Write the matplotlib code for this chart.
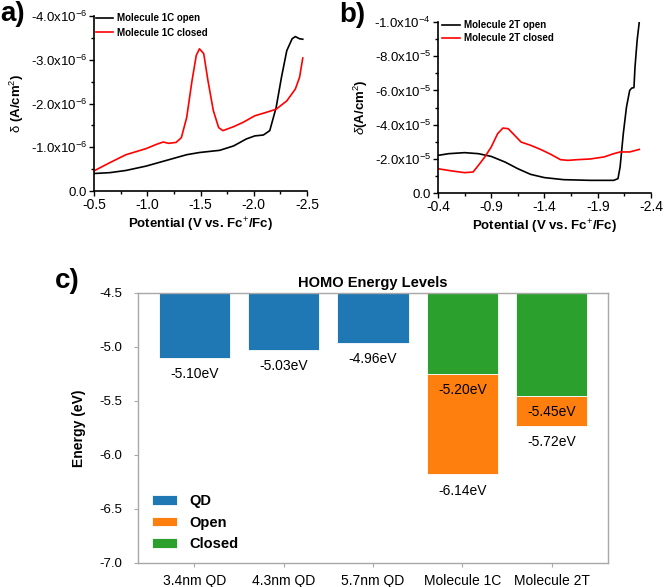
import numpy as np
import matplotlib
matplotlib.use("Agg")
import matplotlib.pyplot as plt
from matplotlib.ticker import MultipleLocator, FuncFormatter

plt.rcParams['font.family'] = ['Liberation Sans', 'DejaVu Sans']
plt.rcParams['mathtext.fontset'] = 'custom'
plt.rcParams['mathtext.rm'] = 'Liberation Sans'
plt.rcParams['mathtext.it'] = 'Liberation Sans:italic'
plt.rcParams['mathtext.bf'] = 'Liberation Sans:bold'
plt.rcParams['axes.unicode_minus'] = False

# --- panel a: molecule 1C (V, A/cm^2) ---
v1c_open = [-0.50, -0.65, -0.80, -0.99, -1.18, -1.37, -1.49, -1.68, -1.81, -1.93, -2.01,
            -2.09, -2.15, -2.21, -2.26, -2.31, -2.36, -2.39, -2.43, -2.46]
j1c_open = [-0.40, -0.42, -0.47, -0.57, -0.70, -0.83, -0.88, -0.93, -1.03, -1.19, -1.26,
            -1.28, -1.38, -1.91, -2.60, -3.21, -3.48, -3.53, -3.48, -3.47]
v1c_closed = [-0.50, -0.65, -0.80, -0.99, -1.09, -1.15, -1.20, -1.27, -1.32, -1.37, -1.42,
              -1.46, -1.49, -1.53, -1.57, -1.62, -1.67, -1.71, -1.81, -1.90, -2.01, -2.12,
              -2.21, -2.31, -2.39, -2.43, -2.46]
j1c_closed = [-0.46, -0.65, -0.83, -0.97, -1.07, -1.12, -1.09, -1.11, -1.22, -1.68, -2.52,
              -3.10, -3.25, -3.14, -2.52, -1.84, -1.45, -1.38, -1.47, -1.57, -1.72, -1.80,
              -1.87, -2.06, -2.33, -2.60, -3.04]   # x1e-6

# --- panel b: molecule 2T ---
v2t_open = [-0.40, -0.50, -0.65, -0.78, -0.90, -1.03, -1.15, -1.27, -1.40, -1.58, -1.83,
            -2.05, -2.09, -2.11, -2.14, -2.17, -2.20, -2.22, -2.24, -2.25, -2.27, -2.29]
j2t_open = [-2.20, -2.30, -2.36, -2.30, -2.14, -1.81, -1.42, -1.09, -0.90, -0.78, -0.74,
            -0.74, -0.84, -1.52, -3.47, -5.03, -6.00, -6.14, -6.16, -7.37, -8.93, -10.0]
v2t_closed = [-0.40, -0.53, -0.65, -0.73, -0.78, -0.84, -0.90, -0.96, -1.01, -1.06, -1.12,
              -1.18, -1.27, -1.37, -1.46, -1.55, -1.62, -1.71, -1.83, -1.96, -2.05, -2.11,
              -2.20, -2.29]
j2t_closed = [-1.42, -1.29, -1.19, -1.23, -1.62, -2.11, -2.69, -3.47, -3.80, -3.76, -3.37,
              -2.98, -2.79, -2.53, -2.26, -1.95, -1.91, -1.95, -1.99, -2.11, -2.30, -2.40,
              -2.40, -2.55]   # x1e-5

# --- panel c: HOMO levels (eV) ---
categories = ["3.4nm QD", "4.3nm QD", "5.7nm QD", "Molecule 1C", "Molecule 2T"]
qd_homo = [-5.10, -5.03, -4.96]
mol_closed = [-5.25, -5.45]
mol_open = [-6.18, -5.73]
qd_text = ["-5.10eV", "-5.03eV", "-4.96eV"]
closed_text = ["-5.20eV", "-5.45eV"]
open_text = ["-6.14eV", "-5.72eV"]
b_xticks = [-0.4, -0.9, -1.4, -1.9, -2.4]
b_xminor = [-0.65, -1.15, -1.65, -2.15]


def sci_fmt(v, pos):
    if abs(v) < 1e-12:
        return "0.0"
    e = int(np.floor(np.log10(abs(v)) + 1e-9))
    return f"{v / 10**e:.1f}x10$^{{{e}}}$"


def style_cv(ax):
    for s in ['top', 'right']:
        ax.spines[s].set_visible(False)
    for s in ['left', 'bottom']:
        ax.spines[s].set_linewidth(1.2)
    ax.tick_params(which='major', direction='out', length=3.5, width=1, pad=1.5)
    ax.tick_params(axis='y', labelsize=9.5)
    ax.tick_params(axis='x', labelsize=10)
    ax.tick_params(which='minor', direction='out', length=2.5, width=1)
    ax.yaxis.set_major_formatter(FuncFormatter(sci_fmt))
    ax.set_xlabel("Potential (V vs. Fc$^{+}$/Fc)", fontsize=9.5, fontweight='bold', labelpad=3)


fig = plt.figure(figsize=(6.64, 5.87), dpi=100)

# panel a
ax_a = fig.add_axes([0.1416, 0.6746, 0.3208, 0.2981])
ax_a.plot(v1c_open, np.array(j1c_open) * 1e-6, color='black', lw=1.2, label="Molecule 1C open")
ax_a.plot(v1c_closed, np.array(j1c_closed) * 1e-6, color='red', lw=1.2, label="Molecule 1C closed")
ax_a.set_xlim(-0.5, -2.5)
ax_a.set_ylim(0, -4e-6)
ax_a.xaxis.set_major_locator(MultipleLocator(0.5))
ax_a.xaxis.set_minor_locator(MultipleLocator(0.25))
ax_a.yaxis.set_major_locator(MultipleLocator(1e-6))
ax_a.yaxis.set_minor_locator(MultipleLocator(0.5e-6))
style_cv(ax_a)
ax_a.set_ylabel("$\\mathrm{\\delta}$ (A/cm$^{2}$)", fontsize=9.5, fontweight='bold', labelpad=3)
ax_a.legend(loc='upper left', bbox_to_anchor=(0.01, 1.015), frameon=False, borderpad=0,
            borderaxespad=0, handlelength=1.75, handletextpad=0.4, labelspacing=0.45,
            prop={'size': 7, 'weight': 'bold'})

# panel b
ax_b = fig.add_axes([0.6596, 0.6712, 0.3208, 0.2913])
ax_b.plot(v2t_open, np.array(j2t_open) * 1e-5, color='black', lw=1.2, label="Molecule 2T open")
ax_b.plot(v2t_closed, np.array(j2t_closed) * 1e-5, color='red', lw=1.2, label="Molecule 2T closed")
ax_b.set_xlim(-0.4, -2.4)
ax_b.set_ylim(0, -1e-4)
ax_b.set_xticks(b_xticks)
ax_b.set_xticks(b_xminor, minor=True)
ax_b.yaxis.set_major_locator(MultipleLocator(2e-5))
ax_b.yaxis.set_minor_locator(MultipleLocator(1e-5))
style_cv(ax_b)
ax_b.set_ylabel("$\\delta$(A/cm$^{2}$)", fontsize=9.5, fontweight='bold', labelpad=3)
ax_b.legend(loc='upper left', bbox_to_anchor=(0.02, 1.01), frameon=False, borderpad=0,
            borderaxespad=0, handlelength=1.85, handletextpad=0.4, labelspacing=0.3,
            prop={'size': 7, 'weight': 'bold'})

# panel c
ax_c = fig.add_axes([0.2078, 0.0409, 0.7078, 0.46])
top = -4.5
x = np.arange(len(categories))
nq = len(qd_homo)
ax_c.bar(x[:nq], np.array(qd_homo) - top, bottom=top, width=0.8, color='#1f77b4',
         edgecolor='white', linewidth=0.6, label='QD')
ax_c.bar(x[nq:], np.array(mol_open) - np.array(mol_closed), bottom=mol_closed, width=0.8,
         color='#ff7f0e', edgecolor='white', linewidth=0.6, label='Open')
ax_c.bar(x[nq:], np.array(mol_closed) - top, bottom=top, width=0.8, color='#2ca02c',
         edgecolor='white', linewidth=0.6, label='Closed')
off = 0.15
for xi, v, t in zip(x[:nq], qd_homo, qd_text):
    ax_c.text(xi, v - off, t, ha='center', va='center', fontsize=10)
for xi, v, t in zip(x[nq:], mol_closed, closed_text):
    ax_c.text(xi, v - off, t, ha='center', va='center', fontsize=10)
for xi, v, t in zip(x[nq:], mol_open, open_text):
    ax_c.text(xi, v - off, t, ha='center', va='center', fontsize=10)
ax_c.set_xlim(-0.63, 4.63)
ax_c.set_ylim(-7.0, -4.5)
ax_c.set_xticks(x)
ax_c.set_xticklabels(categories)
ax_c.set_yticks(np.arange(-7.0, -4.49, 0.5))
ax_c.yaxis.set_major_formatter(FuncFormatter(lambda v, p: f"{v:.1f}"))
for s in ax_c.spines.values():
    s.set_color('#a8a8a8')
    s.set_linewidth(1.0)
ax_c.tick_params(axis='y', direction='out', length=3, color='#a8a8a8', labelsize=9.5, pad=8)
ax_c.tick_params(axis='x', direction='out', length=3, color='#a8a8a8', labelsize=10, pad=5)
ax_c.set_ylabel("Energy (eV)", fontsize=10, fontweight='bold', labelpad=10)
ax_c.set_title("HOMO Energy Levels", fontsize=10.5, fontweight='bold', pad=4)
ax_c.legend(loc='lower left', bbox_to_anchor=(0.03, 0.045), frameon=False, borderpad=0,
            borderaxespad=0, handlelength=1.7, handleheight=0.65, handletextpad=0.85,
            labelspacing=0.5, prop={'size': 10.5, 'weight': 'bold'})

# panel letters
fig.text(0.0, 0.976, "a)", fontsize=20, fontweight='bold', ha='left', va='center')
fig.text(339 / 664, 0.974, "b)", fontsize=20, fontweight='bold', ha='left', va='center')
fig.text(55 / 664, 1 - 281 / 587, "c)", fontsize=20, fontweight='bold', ha='left', va='center')

fig.savefig("out.png", dpi=100)
